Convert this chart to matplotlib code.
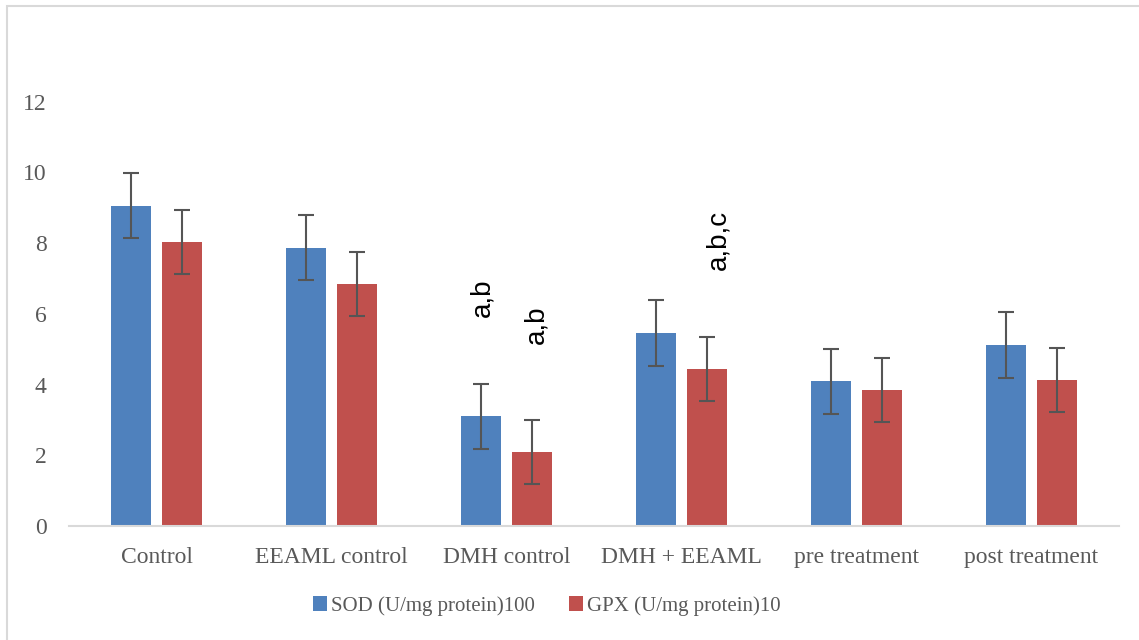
import numpy as np
import matplotlib
matplotlib.use("Agg")
import matplotlib.pyplot as plt
from matplotlib.patches import Rectangle

# ── data ──
groups = ["Control", "EEAML control", "DMH control", "DMH + EEAML",
          "pre treatment", "post treatment"]
sod = [9.06, 7.87, 3.11, 5.46, 4.10, 5.12]
gpx = [8.04, 6.85, 2.09, 4.44, 3.85, 4.13]
sod_err = [0.92, 0.92, 0.92, 0.92, 0.92, 0.92]
gpx_err = [0.90, 0.90, 0.90, 0.90, 0.90, 0.90]
sod_label = "SOD (U/mg protein)100"
gpx_label = "GPX (U/mg protein)10"
# significance marks: (x, y, text)
marks = [(1.86, 6.45, "a,b"), (2.17, 5.69, "a,b"), (3.21, 8.1, "a,b,c")]

BLUE = "#4F81BD"; RED = "#C0504D"; GREY = "#595959"

fig = plt.figure(figsize=(11.39, 6.40), dpi=100)
ax = fig.add_axes([0.0606, 0.178, 0.9218, 0.7736])

x = np.arange(len(groups))
w = 0.228; off = 0.145
ax.bar(x - off, sod, w, color=BLUE, label=sod_label, zorder=2)
ax.bar(x + off, gpx, w, color=RED, label=gpx_label, zorder=2)
ekw = dict(fmt="none", ecolor="#555555", elinewidth=1.5, capsize=6, capthick=1.5, zorder=3)
ax.errorbar(x - off, sod, yerr=sod_err, **ekw)
ax.errorbar(x + off, gpx, yerr=gpx_err, **ekw)

for mx, my, t in marks:
    ax.text(mx, my, t, rotation=90, ha="center", va="center",
            fontsize=20, family="Liberation Sans", color="black")

ax.set_xlim(-0.5, len(groups) - 0.5)
ax.set_ylim(0, 14)
ax.set_yticks(range(0, 13, 2))
ax.set_xticks(x)
ax.set_xticklabels(groups)
for lab in ax.get_xticklabels() + ax.get_yticklabels():
    lab.set_family("Liberation Serif"); lab.set_fontsize(17); lab.set_color(GREY)
ax.tick_params(length=0)
ax.tick_params(axis="x", pad=15)
ax.tick_params(axis="y", pad=16)
for s in ["top", "right", "left"]:
    ax.spines[s].set_visible(False)
ax.spines["bottom"].set_color("#D9D9D9"); ax.spines["bottom"].set_linewidth(1.5)

leg = fig.legend(loc="center", bbox_to_anchor=(0.48, 0.053), ncol=2, frameon=False,
                 handlelength=0.7, handleheight=0.7, handletextpad=0.2, columnspacing=1.6,
                 prop={"family": "Liberation Serif", "size": 15})
for t in leg.get_texts():
    t.set_color(GREY)

# chart frame (only top/left edge visible in reference)
fig.patches.append(Rectangle((0.0061, -0.05), 1.1, 1.0406, transform=fig.transFigure,
                             fill=False, edgecolor="#D9D9D9", linewidth=1.5))

fig.savefig("out.png", dpi=100)
